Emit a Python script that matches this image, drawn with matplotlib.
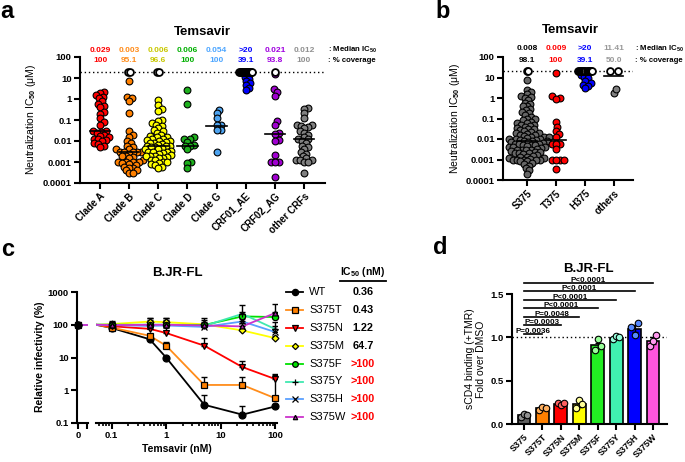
import numpy as np
import matplotlib
matplotlib.use("Agg")
import matplotlib.pyplot as plt
from matplotlib.lines import Line2D
from matplotlib.transforms import blended_transform_factory

plt.rcParams['font.family'] = ['Liberation Sans', 'DejaVu Sans']
plt.rcParams['font.weight'] = 'bold'
plt.rcParams['mathtext.fontset'] = 'custom'
plt.rcParams['mathtext.rm'] = 'Liberation Sans:bold'
plt.rcParams['mathtext.it'] = 'Liberation Sans:bold'
plt.rcParams['mathtext.bf'] = 'Liberation Sans:bold'
plt.rcParams['axes.linewidth'] = 1.5

# ---------------- panel a : IC50 (uM) per clade ----------------
clades = ["Clade A", "Clade B", "Clade C", "Clade D", "Clade G",
          "CRF01_AE", "CRF02_AG", "other CRFs"]
clade_a = [2.2, 2.0, 1.6, 1.3, 1.1, 0.8, 0.6, 0.45, 0.4, 0.25, 0.2, 0.12, 0.08, 0.06,
           0.03, 0.03, 0.028, 0.025, 0.02, 0.018, 0.015, 0.013, 0.012, 0.011, 0.01,
           0.008, 0.0075, 0.006, 0.005]
clade_b = [7, 1.2, 1.1, 0.8, 0.22, 0.03, 0.02, 0.015, 0.01, 0.008, 0.006, 0.005, 0.004,
           0.004, 0.003, 0.003, 0.003, 0.003, 0.003, 0.0025, 0.002, 0.002, 0.0018, 0.0015,
           0.0012, 0.001, 0.001, 0.001, 0.001, 0.0009, 0.0008, 0.0007, 0.0006, 0.0005,
           0.0005, 0.0004, 0.0004, 0.0003, 0.0003]
clade_c = [0.9, 0.5, 0.35, 0.28, 0.1, 0.09, 0.07, 0.06, 0.05, 0.04, 0.035, 0.03, 0.025,
           0.02, 0.018, 0.016, 0.015, 0.013, 0.012, 0.011, 0.01, 0.01, 0.009, 0.008, 0.008,
           0.007, 0.0065, 0.006, 0.006, 0.0055, 0.005, 0.005, 0.0045, 0.004, 0.004, 0.0035,
           0.003, 0.003, 0.003, 0.0028, 0.0025, 0.0022, 0.002, 0.002, 0.002, 0.0018, 0.0016,
           0.0015, 0.0013, 0.0012, 0.001, 0.001, 0.0009, 0.0008, 0.0007, 0.0006, 0.0005]
clade_d = [2.7, 0.58, 0.015, 0.012, 0.012, 0.0088, 0.0065, 0.006, 0.006, 0.0042, 0.001,
           0.0009, 0.00054]
clade_g = [0.3, 0.21, 0.13, 0.06, 0.055, 0.035, 0.033, 0.003]
crf01_ae = [17, 14, 11, 9, 7, 5.5, 4.5, 3.5, 2.8]
crf02_ag = [15, 2.9, 2.1, 1.4, 0.085, 0.057, 0.025, 0.021, 0.011, 0.01, 0.0021, 0.001,
            0.001, 0.001, 0.0002]
other_crfs = [0.36, 0.35, 0.21, 0.13, 0.06, 0.055, 0.05, 0.045, 0.04, 0.03, 0.025, 0.02,
              0.015, 0.012, 0.012, 0.01, 0.008, 0.006, 0.005, 0.004, 0.003, 0.0025, 0.002,
              0.0015, 0.0013, 0.0012, 0.0012, 0.001, 0.001, 0.0003]
clade_vals = [clade_a, clade_b, clade_c, clade_d, clade_g, crf01_ae, crf02_ag, other_crfs]
clade_resistant = [0, 2, 2, 0, 0, 14, 1, 0]          # >20 uM, drawn as open circles at 20
clade_median = [0.029, 0.003, 0.006, 0.006, 0.054, None, 0.021, 0.012]
clade_median_txt = ["0.029", "0.003", "0.006", "0.006", "0.054", ">20", "0.021", "0.012"]
clade_cov_txt = ["100", "95.1", "96.6", "100", "100", "39.1", "93.8", "100"]
clade_colors = ['#FF0000', '#FF8000', '#FFFF00', '#1DB01D', '#4DA3F0', '#0000FF', '#A000D0', '#808080']
clade_txt_colors = ['#FF0000', '#FF8C1A', '#C8C800', '#00B000', '#4DA6FF', '#0000FF', '#A000E0', '#909090']

# ---------------- panel b : IC50 (uM) per residue 375 ----------------
residues = ["S375", "T375", "H375", "others"]
s375 = [7.5, 2.5, 2.0, 1.6, 1.3, 1.1, 1.0, 0.8, 0.6, 0.5, 0.4, 0.4, 0.3, 0.25, 0.2, 0.18,
        0.15, 0.12, 0.1, 0.09, 0.08, 0.07, 0.06, 0.06, 0.05, 0.05, 0.045, 0.04, 0.035, 0.03,
        0.03, 0.028, 0.025, 0.022, 0.02, 0.02, 0.018, 0.016, 0.015, 0.014, 0.013, 0.012,
        0.012, 0.011, 0.01, 0.01, 0.01, 0.009, 0.009, 0.008, 0.008, 0.008, 0.007, 0.007,
        0.0065, 0.006, 0.006, 0.0055, 0.005, 0.005, 0.005, 0.0045, 0.004, 0.004, 0.004,
        0.0035, 0.0033, 0.003, 0.003, 0.003, 0.0028, 0.0025, 0.0023, 0.0022, 0.002, 0.002,
        0.002, 0.0018, 0.0016, 0.0015, 0.0014, 0.0013, 0.0012, 0.0012, 0.0011, 0.001, 0.001,
        0.001, 0.001, 0.0009, 0.0008, 0.0008, 0.0007, 0.0006, 0.0005, 0.0004, 0.0003, 0.0002]
t375 = [17, 1.2, 1.0, 0.9, 0.065, 0.037, 0.024, 0.017, 0.012, 0.0056, 0.0056, 0.0056,
        0.0032, 0.001, 0.001, 0.001, 0.001, 0.00035]
h375 = [17, 14, 11, 9, 7, 5.5, 4.5, 3.8, 3.0]
others = [1.8, 2.7]
res_vals = [s375, t375, h375, others]
res_resistant = [2, 0, 14, 2]
res_median = [0.008, 0.009, None, 11.41]
res_median_txt = ["0.008", "0.009", ">20", "11.41"]
res_cov_txt = ["98.1", "100", "39.1", "50.0"]
res_colors = ['#666666', '#FF0000', '#0000FF', '#808080']
res_txt_colors = ['#000000', '#FF0000', '#0000FF', '#999999']

# ---------------- panel c : relative infectivity (%) ----------------
conc = [0, 0.1, 0.5, 1, 5, 25, 100]   # nM
mutants = ["WT", "S375T", "S375N", "S375M", "S375F", "S375Y", "S375H", "S375W"]
infect = [
    [100, 80, 36, 10, 0.36, 0.18, 0.32],
    [100, 82, 46, 23, 1.45, 1.45, 0.57],
    [100, 90, 75, 56, 23, 5.1, 2.2],
    [100, 105, 125, 120, 103, 67, 39],
    [100, 100, 100, 100, 98, 180, 172],
    [100, 100, 97, 100, 92, 215, 74],
    [100, 98, 92, 95, 86, 126, 60],
    [100, 97, 100, 100, 95, 89, 228],
]
infect_hi = [
    [100, 85, 40, 10.5, 0.72, 0.32, 0.33],
    [100, 88, 50, 30, 2.6, 2.6, 3.0],
    [100, 95, 85, 97, 39, 8, 3.2],
    [100, 125, 160, 160, 115, 75, 45],
    [100, 110, 120, 130, 160, 250, 240],
    [100, 130, 165, 165, 140, 400, 120],
    [100, 105, 110, 120, 100, 190, 90],
    [100, 115, 140, 140, 120, 110, 430],
]
ic50_txt = ["0.36", "0.43", "1.22", "64.7", ">100", ">100", ">100", ">100"]
c_colors = ['#000000', '#FF8C1A', '#FF0000', '#FFFF00', '#00E000', '#40E8B0', '#5AA0FF', '#CC33CC']
c_markers = ['o', 's', 'v', 'D', 'o', '+', 'x', '^']
c_mfc = ['#000000', '#FF8000', '#FF0000', '#FFFF00', '#00E000', '#000000', '#000080', '#AA22AA']
c_ms = [5, 5, 5, 3.5, 4.5, 5, 4.5, 3.5]

# ---------------- panel d : sCD4 binding ----------------
variants = ["S375", "S375T", "S375N", "S375M", "S375F", "S375Y", "S375H", "S375W"]
binding_mean = [0.10, 0.18, 0.23, 0.23, 0.91, 0.99, 1.10, 0.96]
binding_sem = [0.01, 0.012, 0.008, 0.03, 0.03, 0.01, 0.04, 0.04]
binding_pts = [[0.08, 0.11, 0.10], [0.16, 0.20, 0.19], [0.24, 0.22, 0.24], [0.19, 0.28, 0.23],
               [0.85, 0.98, 0.90], [0.98, 1.01, 1.00], [1.12, 1.03, 1.16], [0.90, 0.96, 1.03]]
p_labels = ["P=0.0036", "P=0.0003", "P=0.0048", "P<0.0001", "P<0.0001", "P<0.0001", "P<0.0001"]
d_colors = ['#606060', '#FF8000', '#FF0000', '#FFFF00', '#22EE22', '#40F0B0', '#0000FF', '#FF55DD']
d_pt_colors = ['#909090', '#FFB060', '#FF6060', '#FFFF99', '#99FF99', '#99FFDD', '#5588FF', '#FF99EE']

W, H = 685, 462
fig = plt.figure(figsize=(6.85, 4.62), dpi=100)


def box(x0, y0, x1, y1):
    return [x0 / W, 1 - y1 / H, (x1 - x0) / W, (y1 - y0) / H]


def px(x, y):
    return x / W, 1 - y / H


def style(ax, size=6.8):
    for s in ('top', 'right'):
        ax.spines[s].set_visible(False)
    ax.tick_params(direction='out', length=4, width=1.5, labelsize=size, pad=2)


def swarm(ax, xc, vals, gap=4.0):
    # simple beeswarm in pixel space; gap = minimum distance between centres
    vals = np.asarray(vals, float)
    t = ax.transData
    ppu = t.transform((1, 1))[0] - t.transform((0, 1))[0]
    ys = t.transform(np.column_stack([np.zeros_like(vals), vals]))[:, 1]
    offs = np.zeros(len(vals))
    done = []
    for i in np.argsort(ys):
        k = 0
        found = None
        while found is None:
            cands = (0.0,) if k == 0 else (k * 0.5, -k * 0.5)
            for c in cands:
                if all((c - ox) ** 2 + (ys[i] - oy) ** 2 >= gap ** 2 for ox, oy in done):
                    found = c
                    break
            k += 1
        offs[i] = found
        done.append((found, ys[i]))
    return xc + offs / ppu


def open_row(ax, xc, n, step):
    t = ax.transData
    ppu = t.transform((1, 1))[0] - t.transform((0, 1))[0]
    offs = (np.arange(n) - (n - 1) / 2) * step / ppu
    ax.scatter(xc + offs, [20] * n, s=24, facecolor='white', edgecolor='black',
               linewidths=1.3, zorder=5, clip_on=False)


def dot_panel(ax, names, vals, resist, medians, colors, steps, mw):
    ax.set_yscale('log')
    ax.set_ylim(1e-4, 100)
    ax.set_yticks([1e-4, 1e-3, 1e-2, 0.1, 1, 10, 100])
    ax.set_yticklabels(['0.0001', '0.001', '0.01', '0.1', '1', '10', '100'])
    ax.yaxis.set_minor_locator(plt.NullLocator())
    ax.set_xticks(range(len(names)))
    ax.set_xticklabels(names, rotation=45, ha='right', rotation_mode='anchor', fontsize=7)
    ax.axhline(20, color='black', lw=1, ls=(0, (1, 2)), zorder=1)
    for i, v in enumerate(vals):
        xs = swarm(ax, i, v)
        ax.scatter(xs, v, s=24, c=colors[i], edgecolors='black', linewidths=0.8, zorder=3)
        if resist[i]:
            open_row(ax, i, resist[i], steps[i])
        if medians[i] is not None:
            ax.plot([i - mw, i + mw], [medians[i]] * 2, color='black', lw=1.2, zorder=4)


def ic_rows(ax, med_txt, cov_txt, colors, y1, y2, xr):
    tr = blended_transform_factory(ax.transData, fig.transFigure)
    for i in range(len(med_txt)):
        ax.text(i, 1 - y1 / H, med_txt[i], color=colors[i], fontsize=6, ha='center', va='center', transform=tr)
        ax.text(i, 1 - y2 / H, cov_txt[i], color=colors[i], fontsize=6, ha='center', va='center', transform=tr)
    fig.text(*px(xr, y1), ': Median IC$_{50}$', fontsize=5.6, va='center')
    fig.text(*px(xr, y2), ': % coverage', fontsize=5.6, va='center')


# panel a
ax_a = fig.add_axes(box(80, 57, 325, 183))
style(ax_a)
ax_a.set_xlim(-0.69, 7.72)
dot_panel(ax_a, clades, clade_vals, clade_resistant, clade_median, clade_colors,
          [0, 2, 2, 0, 0, 1.0, 0, 0], 0.35)
ic_rows(ax_a, clade_median_txt, clade_cov_txt, clade_txt_colors, 50, 61, 328)
ax_a.set_ylabel('Neutralization IC$_{50}$ (μM)', fontsize=7.5, labelpad=3)
fig.text(*px(202, 32), 'Temsavir', fontsize=9.5, ha='center', va='center')

# panel b
ax_b = fig.add_axes(box(503, 57, 633, 180))
style(ax_b)
ax_b.set_xlim(-0.83, 3.66)
dot_panel(ax_b, residues, res_vals, res_resistant, res_median, res_colors,
          [1.0, 0, 1.1, 8], 0.33)
ic_rows(ax_b, res_median_txt, res_cov_txt, res_txt_colors, 49, 60, 635)
ax_b.set_ylabel('Neutralization IC$_{50}$ (μM)', fontsize=7.5, labelpad=3)
fig.text(*px(570, 30), 'Temsavir', fontsize=9.5, ha='center', va='center')

# panel c
ax_c0 = fig.add_axes(box(77, 292, 88, 423))
ax_c = fig.add_axes(box(96, 292, 277, 423))
for ax in (ax_c0, ax_c):
    style(ax)
    ax.set_yscale('log')
    ax.set_ylim(0.1, 1000)
    ax.yaxis.set_minor_locator(plt.NullLocator())
ax_c0.set_xlim(-0.15, 1.0)
ax_c0.set_xticks([0, 0.9])
ax_c0.set_xticklabels(['0', ''])
ax_c0.set_yticks([0.1, 1, 10, 100, 1000])
ax_c0.set_yticklabels(['0.1', '1', '10', '100', '1000'])
ax_c.spines['left'].set_visible(False)
ax_c.tick_params(axis='y', left=False, labelleft=False)
ax_c.set_xscale('log')
ax_c.set_xlim(0.0518, 108)
ax_c.set_xticks([0.1, 1, 10, 100])
ax_c.set_xticklabels(['0.1', '1', '10', '100'])
ax_c.tick_params(axis='x', which='minor', length=2.5, width=1.2)
ax_c.xaxis.set_minor_formatter(plt.NullFormatter())

xs_c = np.array(conc[1:], float)
for k in range(len(mutants)):
    v = np.array(infect[k], float)
    hi = np.array(infect_hi[k], float)
    ax_c.plot(np.r_[ax_c.get_xlim()[0], xs_c], v, color=c_colors[k], lw=1.3, zorder=2)
    ax_c.errorbar(xs_c, v[1:], yerr=[np.zeros(len(xs_c)), hi[1:] - v[1:]], fmt='none',
                  ecolor='black', elinewidth=1, capsize=2.2, capthick=1, zorder=3)
    ax_c.plot(xs_c, v[1:], ls='none', marker=c_markers[k], mfc=c_mfc[k], mec='black',
              mew=0.9, ms=c_ms[k], zorder=4, clip_on=False)
    ax_c0.plot([0, 1], [v[0], v[0]], color=c_colors[k], lw=1.3, zorder=2)
for k in reversed(range(len(mutants))):
    ax_c0.plot([0], [infect[k][0]], ls='none', marker=c_markers[k], mfc=c_mfc[k], mec='black',
               mew=0.9, ms=c_ms[k], zorder=4, clip_on=False)

fig.text(*px(40, 357), 'Relative infectivity (%)', fontsize=7.5, rotation=90, ha='center', va='center')
fig.text(*px(177, 449), 'Temsavir (nM)', fontsize=7.5, ha='center', va='center')
fig.text(*px(177, 273), 'B.JR-FL', fontsize=9.5, ha='center', va='center')

# legend of panel c
fig.text(*px(363, 272), 'IC$_{50}$ (nM)', fontsize=7.5, ha='center', va='center')
fig.add_artist(Line2D([340 / W, 386 / W], [1 - 281 / H] * 2, color='black', lw=1.3))
for k in range(len(mutants)):
    y = 1 - (292 + 17.9 * k) / H
    fig.add_artist(Line2D([286 / W, 303 / W], [y, y], color=c_colors[k], lw=1.3))
    fig.add_artist(Line2D([294.5 / W], [y], ls='none', marker=c_markers[k], mfc=c_mfc[k],
                          mec='black', mew=0.9, ms=c_ms[k] * 0.9))
    fig.text(309 / W, y, mutants[k], fontsize=8, fontweight='normal', va='center')
    fig.text(363 / W, y, ic50_txt[k], fontsize=7.8, ha='center', va='center',
             color='red' if ic50_txt[k].startswith('>') else 'black')

# panel d
ax_d = fig.add_axes(box(512, 294, 667, 424))
style(ax_d)
xd = np.arange(len(variants))
ax_d.set_xlim(-0.65, 7.76)
ax_d.set_ylim(0, 1.5)
ax_d.set_yticks([0, 0.5, 1.0, 1.5])
ax_d.set_yticklabels(['0.0', '0.5', '1.0', '1.5'])
ax_d.set_xticks(xd)
ax_d.set_xticklabels(variants, rotation=45, ha='right', rotation_mode='anchor', fontsize=6.5)
ax_d.axhline(1.0, color='black', lw=1, ls=(0, (1, 2)), zorder=1)
ax_d.bar(xd, binding_mean, width=0.7, color=d_colors, edgecolor='black', linewidth=1.2, zorder=2)
ax_d.errorbar(xd, binding_mean, yerr=binding_sem, fmt='none', ecolor='black', elinewidth=1,
              capsize=2, zorder=3)
jit = np.array([-0.17, 0.0, 0.17])
for i, pts in enumerate(binding_pts):
    ax_d.scatter(xd[i] + jit, pts, s=22, c=d_pt_colors[i], edgecolors='black', linewidths=0.8, zorder=4)
for j, lab in enumerate(p_labels):
    yb = 1.04 + 0.098 * j
    ax_d.plot([0, j + 1], [yb, yb], color='black', lw=1.2, clip_on=False)
    ax_d.text((j + 1) / 2, yb - 0.01, lab, fontsize=5.8, ha='center', va='bottom', clip_on=False)
ax_d.set_ylabel('sCD4 binding (+TMR)\nFold over DMSO', fontsize=7.5, labelpad=3, linespacing=1.1)
fig.text(*px(588, 269), 'B.JR-FL', fontsize=9.5, ha='center', va='center')

# panel letters
for lab, x, y in [('a', 7, 12), ('b', 443, 12), ('c', 8, 250), ('d', 440, 248)]:
    fig.text(*px(x, y), lab, fontsize=17, ha='center', va='center')

fig.savefig('out.png', dpi=100)
